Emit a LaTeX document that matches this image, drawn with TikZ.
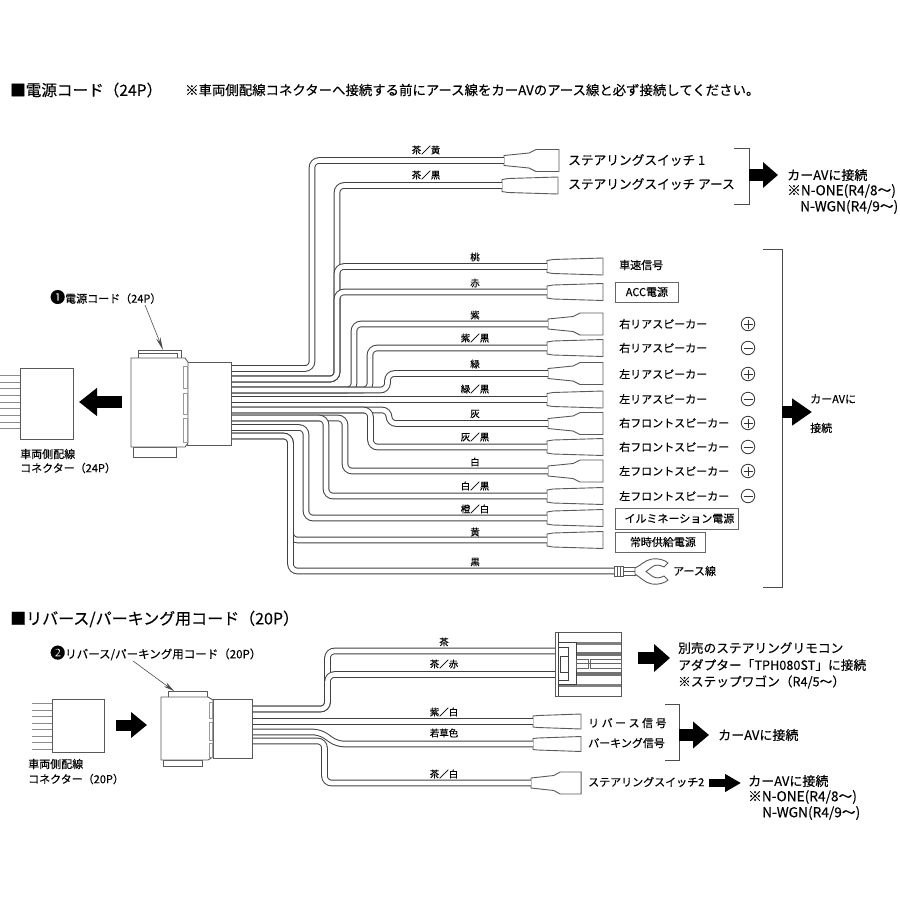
\documentclass[tikz,border=0pt]{standalone}
\usepackage{fontspec}
\setmainfont[FakeBold=0.25]{Noto Sans CJK JP}
\usetikzlibrary{positioning,calc,arrows.meta}

\newcommand{\fs}[1]{\fontsize{#1}{#1}\selectfont}
% full width slash and brackets
\newcommand{\wsl}{^^^^ff0f}
\newcommand{\wlp}{^^^^ff08}
\newcommand{\wrp}{^^^^ff09}

\tikzset{
	wire/.style={draw=black!75, double=white, double distance=4.6pt, line width=1pt, rounded corners=7pt},
	part/.style={draw=black!65, fill=white, line width=.9pt},
	slot/.style={draw=black!40, fill=white, line width=.6pt},
	wirelabel/.style={font=\fs{9.5}, inner sep=0pt},
	portlabel/.style={font=\fs{11}, anchor=west, inner sep=0pt},
	bigtext/.style={font=\fs{12.7}, anchor=west, inner sep=0pt},
	notetext/.style={font=\fs{13.7}, anchor=west, inner sep=0pt},
	boxlabel/.style={font=\fs{11}, anchor=west, draw=black!60, line width=.8pt, inner sep=0pt},
	bracket/.style={draw=black!70, line width=1pt},
	fatarrow/.style n args={3}{line width=#1, -{Triangle[length=#2,width=#3]}},
	plainterm/.pic={
		\coordinate (-in) at (0,0);
		\draw[part] (0,-6) -- (6,-7) -- (56,-8.5) -- (56,8.5) -- (6,7) -- (0,6) -- cycle;
	},
	wideterm/.pic={
		\coordinate (-in) at (0,0);
		\draw[part] (0,-5) -- (25,-7.5) -- (32,-11) -- (55,-11) -- (55,11) -- (32,11) -- (25,7.5) -- (0,5) -- cycle;
	},
	smallterm/.pic={
		\coordinate (-in) at (0,0);
		\draw[part] (0,-5.5) -- (5,-6) -- (48,-7.5) -- (48,7.5) -- (5,6) -- (0,5.5) -- cycle;
	},
	signcircle/.style={draw=black!80, line width=.8pt, circle, minimum size=13.5pt, inner sep=0pt},
}

\begin{document}
\begin{tikzpicture}[x=1pt,y=-1pt]
	\useasboundingbox (0,0) rectangle (900,900);

	% headings
	\node[anchor=west, inner sep=0pt, font=\fs{15.6}] (titleA) at (10,90) {■電源コード\wlp{}24P\wrp};
	\node[anchor=west, inner sep=0pt, font=\fs{13.4}] (note) at (185,90) {※車両側配線コネクターへ接続する前にアース線をカーAVのアース線と必ず接続してください。};
	\node[anchor=west, inner sep=0pt, font=\fs{16}] (titleB) at (10,619) {■リバース/パーキング用コード\wlp{}20P\wrp};

	% terminals of the 24P cord
	\pic (tSwA) at (504,160.5) {wideterm};
	\pic (tSwB) at (502,185.5) {plainterm};
	\foreach \name/\y in {tSpeed/266.5, tAcc/292, tRRn/348, tLRn/399.5, tRFn/447, tLFn/496, tIll/518, tBat/540}
		\pic (\name) at (547,\y) {plainterm};
	\foreach \name/\y in {tRR/324, tLR/373.5, tRF/423.5, tLF/471}
		\pic (\name) at (548,\y) {wideterm};

	% ring terminal
	\coordinate (tEarth) at (614,571);
	\draw[part] (614,566) rectangle (623,576);
	\draw[part] (623,567) rectangle (635,575);
	\draw[black!65, line width=.7pt] (617,566) -- (617,576) (620,566) -- (620,576) (623,571) -- (635,571);
	\draw[part] (635,568) .. controls (640,566) and (645,560) .. (652,559)
		.. controls (658,558) and (665,560) .. (668,563) -- (664,567)
		.. controls (660,565) and (656,564) .. (652,567) -- (646,571.5) -- (652,576)
		.. controls (656,579) and (660,578) .. (664,576) -- (668,580)
		.. controls (665,583) and (658,585) .. (652,584)
		.. controls (645,583) and (640,577) .. (635,574) -- cycle;

	% exits of the plug
	\foreach \n/\y in {a/368.5, b/379, c/390, d/399.5, e/410, f/418, g/427.5, h/436}
		\coordinate (p\n) at (231,\y);

	% wires, 24P
	\draw[wire] (pa) -- (312,368.5) |- (tSwA-in);
	\draw[wire] (pb) -- (337,379) |- (tSwB-in);
	\draw[wire] (pb) -- (337,379) |- (tSpeed-in);
	\draw[wire] (pb) -- (337,379) |- (tAcc-in);
	\draw[wire] (pc) -- (354,390) |- (tRR-in);
	\draw[wire] (pc) -- (370,390) |- (tRRn-in);
	\draw[wire] (pc) -- (387.5,390) |- (tLR-in);
	\draw[wire] (pd) -- (tLRn-in);
	\draw[wire] (pe) -- (389,410) |- (tRF-in);
	\draw[wire] (pe) -- (370.5,410) |- (tRFn-in);
	\draw[wire] (pf) -- (345,418) |- (tLF-in);
	\draw[wire] (pf) -- (326,418) |- (tLFn-in);
	\draw[wire] (pg) -- (306,427.5) |- (tIll-in);
	\draw[wire] (ph) -- (290.5,436) |- (tBat-in);
	\draw[wire] (ph) -- (290.5,436) |- (tEarth);

	% wire colours
	\foreach \y/\lab in {257/桃, 283/赤, 315/紫, 338/紫\wsl{}黒, 364/緑, 389/緑\wsl{}黒, 414/灰, 437/灰\wsl{}黒, 462/白, 486/白\wsl{}黒, 509/橙\wsl{}白, 532/黄, 562/黒}
		\node[wirelabel] at (475,\y) {\lab};
	\node[wirelabel] (cSwA) at (426,150) {茶\wsl{}黄};
	\node[wirelabel] (cSwB) at (426,175) {茶\wsl{}黒};

	% the 24P plug
	\draw[part] (138,350) rectangle (181,358);
	\draw[black!65, line width=.7pt] (138,353) -- (177,353) -- (177,358);
	\draw[part] (133,447) rectangle (176,457);
	\draw[part] (187,362) rectangle (231,445);
	\draw[part] (131,358) -- (185,358) -- (188,362) -- (188,443) -- (185,447) -- (131,447) -- cycle;
	\foreach \a/\b in {366/388, 393/414, 418/442}
		\draw[slot] (183,\a) rectangle (187,\b);

	% the 24P connector
	\foreach \y in {375,382,388,395,402,408,415,422,428}
		\draw[black!45, line width=.8pt] (0,\y) -- (20,\y);
	\node[part, anchor=north west, minimum width=53pt, minimum height=71pt, inner sep=0pt] (connA) at (20,368) {};
	\coordinate (arrA) at (122,402);
	\coordinate (arrAtip) at (79,402);
	\draw[fatarrow={12pt}{18pt}{27pt}] (arrA) -- (arrAtip);

	\node[anchor=west, inner sep=0pt, font=\fs{11}] (cordA) at (50,297) {{\fs{15}❶}電源コード\wlp{}24P\wrp};
	\draw[black!70, line width=.6pt, -{Stealth[length=13pt,width=4.5pt]}] (145,305) -- (163,350);
	\node[portlabel] (lblA) at (20,454) {車両側配線};
	\node[portlabel] (lblB) at (20,468) {コネクター\wlp{}24P\wrp};

	% what the terminals are
	\node[bigtext] (swA) at (568,160) {ステアリングスイッチ 1};
	\node[bigtext] (swB) at (568,184) {ステアリングスイッチ アース};
	\node[portlabel] (speed) at (619,265) {車速信号};
	\node[boxlabel, minimum width=63pt, minimum height=20pt, align=center] (acc) at (615,292) {ACC電源};
	\foreach \y/\lab/\sign in {324/右リアスピーカー/+, 348/右リアスピーカー/-, 374/左リアスピーカー/+, 399/左リアスピーカー/-, 423/右フロントスピーカー/+, 447/右フロントスピーカー/-, 471/左フロントスピーカー/+, 496/左フロントスピーカー/-} {
		\node[portlabel] at (619,\y) {\lab};
		\node[signcircle] (s\y) at (748,\y) {};
		\draw[black!80, line width=.8pt] ($(s\y)+(-4.5,0)$) -- ($(s\y)+(4.5,0)$);
		\if\sign+\draw[black!80, line width=.8pt] ($(s\y)+(0,-4.5)$) -- ($(s\y)+(0,4.5)$);\fi
	}
	\node[boxlabel, minimum width=123pt, minimum height=21pt] (ill) at (615,518.5) {\hspace{5pt}イルミネーション電源};
	\node[boxlabel, minimum width=90pt, minimum height=20pt] (bat) at (615,542) {\hspace{5pt}常時供給電源};
	\node[portlabel] (earth) at (673,571) {アース線};

	% brackets and arrows on the right
	\draw[bracket] (734,148) -- (749,148) -- (749,204) -- (734,204);
	\coordinate (arrB) at (749,175);
	\coordinate (arrBtip) at (778,175);
	\draw[fatarrow={12pt}{15pt}{25pt}] (arrB) -- (arrBtip);
	\node[bigtext, font=\fs{13}] (carA) at (787,175) {カーAVに接続};
	\node[notetext] (oneA) at (787,191) {※N-ONE(R4/8〜)};
	\node[notetext] (wgnA) at (800,207) {N-WGN(R4/9〜)};

	\draw[bracket] (763,249) -- (782,249) -- (782,587) -- (763,587);
	\coordinate (arrC) at (782,412);
	\coordinate (arrCtip) at (812,412);
	\draw[fatarrow={12pt}{20pt}{26pt}] (arrC) -- (arrCtip);
	\node[portlabel] (carB) at (810,399) {カーAVに};
	\node[portlabel] (carC) at (810,428) {接続};

	% terminals and wires of the 20P cord
	\pic (tRev) at (533,721.5) {smallterm};
	\pic (tPark) at (533,744) {smallterm};
	\pic[xscale=.91] (tSwC) at (531,783) {wideterm};
	\coordinate (cpA) at (555,651);
	\coordinate (cpB) at (555,674.5);
	\foreach \n/\y in {a/709, b/721.5, c/732, d/741}
		\coordinate (q\n) at (252,\y);
	\draw[wire] (qa) -- (327.5,709) |- (cpA);
	\draw[wire] (qa) -- (327.5,709) |- (cpB);
	\draw[wire] (qb) -- (tRev-in);
	\draw[wire] (qc) -- (320,732) -- (337,744) -- (tPark-in);
	\draw[wire] (qd) -- (324.5,741) |- (tSwC-in);

	\node[wirelabel] (cA) at (444,642) {茶};
	\node[wirelabel] (cB) at (444,664) {茶\wsl{}赤};
	\node[wirelabel] (cC) at (444,712) {紫\wsl{}白};
	\node[wirelabel] (cD) at (444,733) {若草色};
	\node[wirelabel] (cE) at (444,774) {茶\wsl{}白};

	% the coupler
	\draw[part] (555,632) rectangle (621,696);
	\fill[black!50] (576,642) rectangle (621,645);
	\fill[black!55] (576,652) rectangle (621,656);
	\fill[black!55] (576,672) rectangle (621,676);
	\fill[black!50] (558,684) rectangle (621,687);
	\draw[black!75, line width=.7pt] (558,632) -- (558,696) (558,642) -- (576,642) -- (576,684) -- (558,684);
	\draw[black!75, line width=.7pt] (558,647) -- (568,647) -- (568,680) -- (558,680);
	\draw[black!75, line width=.9pt] (560,656) rectangle (568,672);
	\draw[black!60, line width=.6pt] (576,659) rectangle (588,668) (590,659) rectangle (621,668);
	\draw[black!60, line width=.6pt] (576,663.5) -- (621,663.5);

	% the 20P plug
	\draw[part] (168,691) rectangle (207,697);
	\draw[part] (163,760) rectangle (202,766);
	\draw[part] (213,699) rectangle (252,758);
	\draw[part] (161,697) -- (208,697) -- (213,700) -- (213,757) -- (208,760) -- (161,760) -- cycle;
	\foreach \a/\b in {702/718, 722/740, 743/757}
		\draw[slot] (209,\a) rectangle (212,\b);

	% the 20P connector
	\foreach \y in {703,710,716,723,729,736,742,749}
		\draw[black!45, line width=.8pt] (32,\y) -- (52,\y);
	\node[part, anchor=north west, minimum width=52pt, minimum height=53pt, inner sep=0pt] (connB) at (52,699) {};
	\coordinate (arrD) at (116,725);
	\coordinate (arrDtip) at (147,725);
	\draw[fatarrow={11pt}{16pt}{25pt}] (arrD) -- (arrDtip);
	\node[anchor=west, inner sep=0pt, font=\fs{11.5}] (cordB) at (50,653) {{\fs{15}❷}リバース/パーキング用コード\wlp{}20P\wrp};
	\draw[black!70, line width=.6pt, -{Stealth[length=11pt,width=5pt]}] (133,661) -- (174,691);
	\node[portlabel] (lblC) at (28,764) {車両側配線};
	\node[portlabel] (lblD) at (28,779) {コネクター\wlp{}20P\wrp};

	% right side of the 20P cord
	\coordinate (arrE) at (638,658);
	\coordinate (arrEtip) at (670,658);
	\draw[fatarrow={12pt}{16pt}{27pt}] (arrE) -- (arrEtip);
	\node[bigtext] (optA) at (678,648) {別売のステアリングリモコン};
	\node[bigtext] (optB) at (678,665) {アダプター「TPH080ST」に接続};
	\node[bigtext] (optC) at (678,682) {※ステップワゴン\wlp{}R4/5〜\wrp};

	\node[portlabel] (rev) at (588,723) {リ バ ー ス 信 号};
	\node[portlabel] (park) at (588,743) {パーキング信号};
	\draw[bracket] (665,704) -- (679,704) -- (679,760) -- (665,760);
	\coordinate (arrF) at (679,735);
	\coordinate (arrFtip) at (709,735);
	\draw[fatarrow={12pt}{16pt}{26pt}] (arrF) -- (arrFtip);
	\node[bigtext, font=\fs{13}] (carD) at (718,735) {カーAVに接続};

	\node[portlabel] (swC) at (588,782) {ステアリングスイッチ2};
	\coordinate (arrG) at (709,783);
	\coordinate (arrGtip) at (741,783);
	\draw[fatarrow={8pt}{16pt}{17pt}] (arrG) -- (arrGtip);
	\node[bigtext, font=\fs{13}] (carE) at (748,781) {カーAVに接続};
	\node[notetext] (oneB) at (748,797) {※N-ONE(R4/8〜)};
	\node[notetext] (wgnB) at (762,813) {N-WGN(R4/9〜)};
\end{tikzpicture}
\end{document}
